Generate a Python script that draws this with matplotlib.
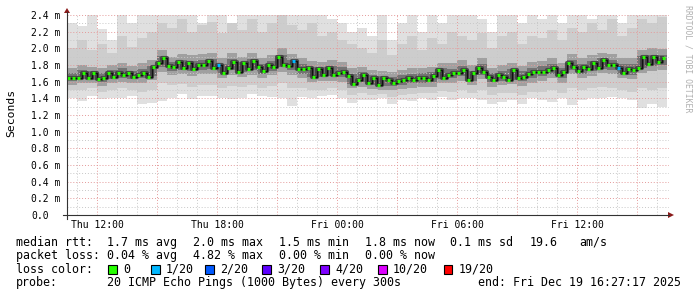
import matplotlib
matplotlib.use("Agg")
import matplotlib.pyplot as plt
import matplotlib.dates as mdates
import numpy as np
import pandas as pd
from matplotlib.patches import Rectangle, Polygon
from matplotlib.lines import Line2D
from matplotlib.transforms import blended_transform_factory

# ---------------- data ----------------
# median RTT in ms, one value every 15 minutes starting Thu 10:30
median = [1.64, 1.65, 1.64, 1.70, 1.65, 1.70, 1.63, 1.65, 1.70, 1.66,
          1.71, 1.68, 1.70, 1.66, 1.68, 1.71, 1.66, 1.78, 1.82, 1.88,
          1.79, 1.77, 1.84, 1.76, 1.82, 1.75, 1.80, 1.80, 1.85, 1.76,
          1.80, 1.71, 1.76, 1.84, 1.72, 1.82, 1.75, 1.85, 1.77, 1.73,
          1.80, 1.78, 1.90, 1.80, 1.79, 1.85, 1.75, 1.75, 1.76, 1.66,
          1.75, 1.68, 1.76, 1.68, 1.71, 1.72, 1.67, 1.57, 1.62, 1.68,
          1.58, 1.65, 1.56, 1.65, 1.62, 1.58, 1.61, 1.62, 1.64, 1.62,
          1.64, 1.64, 1.62, 1.67, 1.74, 1.65, 1.68, 1.71, 1.70, 1.74,
          1.62, 1.71, 1.76, 1.72, 1.66, 1.62, 1.68, 1.66, 1.62, 1.74,
          1.65, 1.66, 1.69, 1.72, 1.72, 1.72, 1.74, 1.76, 1.68, 1.72,
          1.82, 1.78, 1.73, 1.77, 1.75, 1.82, 1.76, 1.86, 1.80, 1.80,
          1.76, 1.71, 1.75, 1.74, 1.76, 1.90, 1.81, 1.90, 1.84, 1.88]
# samples with packet loss (index into median, lost pings out of 20)
loss_index = [30, 45, 110]
loss_count = [1, 1, 1]

# smoke envelopes (ms), one value per 30 minutes starting Thu 10:30
smoke_top = [2.30, 2.27, 2.40, 2.23, 2.10, 2.50, 2.30, 2.50, 2.50, 2.50,
             2.50, 2.50, 2.50, 2.30, 2.50, 2.50, 2.25, 2.50, 2.50, 2.50,
             2.50, 2.50, 2.50, 2.50, 2.50, 2.50, 2.35, 2.30, 2.20, 2.25,
             2.15, 2.50, 2.10, 2.30, 2.50, 2.20, 2.50, 2.30, 2.50, 2.50,
             2.50, 2.35, 2.20, 2.50, 2.50, 2.30, 2.50, 2.35, 2.50, 2.30,
             2.50, 2.50, 2.35, 2.50, 2.50, 2.30, 2.50, 2.50, 2.50, 2.50]
smoke_bot = [1.41, 1.37, 1.43, 1.39, 1.41, 1.40, 1.43, 1.33, 1.35, 1.37,
             1.41, 1.45, 1.39, 1.43, 1.43, 1.41, 1.39, 1.41, 1.45, 1.43,
             1.42, 1.40, 1.31, 1.42, 1.40, 1.43, 1.44, 1.40, 1.35, 1.38,
             1.38, 1.40, 1.33, 1.38, 1.37, 1.40, 1.38, 1.42, 1.38, 1.40,
             1.40, 1.38, 1.33, 1.36, 1.38, 1.33, 1.40, 1.38, 1.36, 1.40,
             1.32, 1.38, 1.40, 1.40, 1.42, 1.40, 1.38, 1.28, 1.33, 1.30]
mid_top = [2.00, 2.10, 1.98, 2.05, 1.95, 2.15, 2.02, 2.12, 2.20, 2.30,
           2.25, 2.35, 2.20, 2.28, 2.32, 2.18, 2.30, 2.22, 2.35, 2.20,
           2.30, 2.40, 2.28, 2.22, 2.30, 2.15, 2.20, 2.10, 2.05, 2.00,
           1.95, 2.10, 1.92, 2.05, 2.15, 1.98, 2.12, 2.05, 2.20, 2.15,
           2.10, 2.18, 2.00, 2.15, 2.20, 2.05, 2.15, 2.12, 2.22, 2.10,
           2.25, 2.20, 2.30, 2.22, 2.35, 2.15, 2.25, 2.35, 2.30, 2.38]
mid_bot = [1.50, 1.50, 1.52, 1.48, 1.50, 1.52, 1.50, 1.48, 1.50, 1.58,
           1.56, 1.57, 1.54, 1.56, 1.56, 1.53, 1.55, 1.54, 1.56, 1.52,
           1.55, 1.58, 1.52, 1.52, 1.50, 1.50, 1.52, 1.50, 1.44, 1.46,
           1.44, 1.45, 1.42, 1.44, 1.45, 1.46, 1.46, 1.49, 1.48, 1.50,
           1.47, 1.50, 1.44, 1.46, 1.47, 1.44, 1.48, 1.48, 1.50, 1.47,
           1.52, 1.50, 1.52, 1.54, 1.53, 1.50, 1.48, 1.52, 1.50, 1.52]
core_top = [1.76, 1.80, 1.78, 1.76, 1.80, 1.82, 1.79, 1.82, 1.86, 1.98,
            1.90, 1.93, 1.92, 1.93, 1.95, 1.88, 1.94, 1.90, 1.95, 1.88,
            1.92, 2.00, 1.93, 1.88, 1.85, 1.84, 1.86, 1.84, 1.76, 1.78,
            1.74, 1.73, 1.72, 1.74, 1.76, 1.76, 1.78, 1.83, 1.82, 1.86,
            1.80, 1.88, 1.77, 1.80, 1.82, 1.79, 1.84, 1.85, 1.88, 1.83,
            1.93, 1.88, 1.92, 1.95, 1.93, 1.88, 1.88, 1.98, 2.00, 1.99]
core_bot = [1.56, 1.58, 1.58, 1.55, 1.58, 1.60, 1.58, 1.59, 1.62, 1.72,
            1.68, 1.69, 1.67, 1.69, 1.69, 1.65, 1.68, 1.66, 1.68, 1.64,
            1.68, 1.72, 1.68, 1.64, 1.60, 1.61, 1.61, 1.60, 1.52, 1.54,
            1.51, 1.50, 1.50, 1.51, 1.53, 1.54, 1.54, 1.58, 1.59, 1.61,
            1.56, 1.63, 1.54, 1.56, 1.57, 1.55, 1.59, 1.61, 1.64, 1.59,
            1.69, 1.64, 1.67, 1.70, 1.69, 1.64, 1.63, 1.71, 1.73, 1.74]

y_ticks = [0.0, 0.2, 0.4, 0.6, 0.8, 1.0, 1.2, 1.4, 1.6, 1.8, 2.0, 2.2, 2.4]
y_labels = ["0.0", "0.2 m", "0.4 m", "0.6 m", "0.8 m", "1.0 m", "1.2 m",
            "1.4 m", "1.6 m", "1.8 m", "2.0 m", "2.2 m", "2.4 m"]
x_label_times = ["2025-12-18 12:00", "2025-12-18 18:00", "2025-12-19 00:00",
                 "2025-12-19 06:00", "2025-12-19 12:00"]
x_labels = ["Thu 12:00", "Thu 18:00", "Fri 00:00", "Fri 06:00", "Fri 12:00"]

loss_names = ["0", "1/20", "2/20", "3/20", "4/20", "10/20", "19/20"]
loss_levels = [0, 1, 2, 3, 4, 10, 19]
loss_colors = ["#26ff00", "#00b8ff", "#0059ff", "#5e00ff", "#7e00ff", "#dd00ff", "#ff0000"]

stats_rtt = ["1.7 ms avg", "2.0 ms max", "1.5 ms min", "1.8 ms now", "0.1 ms sd", "19.6", "am/s"]
stats_loss = ["0.04 % avg", "4.82 % max", "0.00 % min", "0.00 % now"]
probe_text = "20 ICMP Echo Pings (1000 Bytes) every 300s"
end_text = "end: Fri Dec 19 16:27:17 2025"

# ---------------- figure ----------------
W, H = 697, 297
MONO = "DejaVu Sans Mono"


def fx(x):
    return x / W


def fy(y):
    return 1 - y / H


fig = plt.figure(figsize=(W / 100, H / 100), dpi=100, facecolor="white")
ax = fig.add_axes([fx(67), fy(215), (669 - 67) / W, (215 - 15) / H])
ax.set_facecolor("white")
for s in ax.spines.values():
    s.set_visible(False)

start = pd.Timestamp("2025-12-18 10:30")
t_med = mdates.date2num(pd.date_range(start, periods=len(median), freq="15min").to_pydatetime())
t_edge = mdates.date2num(pd.date_range(start, periods=len(smoke_top) + 1, freq="30min").to_pydatetime())


def st(a):
    a = np.asarray(a, dtype=float)
    return np.append(a, a[-1])


ax.fill_between(t_edge, st(smoke_bot), st(smoke_top), step="post", color="#e0e0e0", lw=0, zorder=1)
ax.fill_between(t_edge, st(mid_bot), st(mid_top), step="post", color="#cdcdcd", lw=0, zorder=1.1)
ax.fill_between(t_edge, st(core_bot), st(core_top), step="post", color="#a0a0a0", lw=0, zorder=1.2)
cb, ct = np.asarray(core_bot), np.asarray(core_top)
ax.fill_between(t_edge, st(cb + 0.22 * (ct - cb)), st(cb + 0.72 * (ct - cb)), step="post",
                color="#747474", lw=0, zorder=1.3)

# grid (drawn over the smoke like rrdtool)
minor_h = [v / 10 for v in range(1, 24, 2)]
for v in minor_h:
    ax.axhline(v, color="#c8c8c8", lw=0.7, ls=(0, (1, 2)), zorder=2)
for v in y_ticks[1:]:
    ax.axhline(v, color="#e49a9a", lw=0.7, ls=(0, (1, 2)), zorder=2.1)
hours = pd.date_range("2025-12-18 11:00", "2025-12-19 16:00", freq="1h")
for h in hours:
    major = h.hour % 3 == 0
    ax.axvline(mdates.date2num(h.to_pydatetime()), color="#e49a9a" if major else "#c8c8c8",
               lw=0.7, ls=(0, (1, 2)), zorder=2.1 if major else 2)

# darkest smoke right around the median, then the loss coloured median dashes
ax.step(t_med, median, where="post", color="#3c3c3c", lw=3.0, alpha=0.85, zorder=2.6)
ax.step(t_med, median, where="post", color="#111111", lw=0.9, zorder=3)
pt_colors = [loss_colors[0]] * len(median)
for i, c in zip(loss_index, loss_count):
    pt_colors[i] = loss_colors[loss_levels.index(c)]
ax.hlines(median, t_med, t_med + 10 / 1440, colors=pt_colors, lw=2.3, zorder=4)

ax.set_xlim(mdates.date2num(start.to_pydatetime()),
            mdates.date2num((start + pd.Timedelta(hours=30.1)).to_pydatetime()))
ax.set_ylim(0, 2.4)
ax.set_xticks([])
ax.set_yticks(y_ticks)
ax.set_yticklabels(y_labels, family=MONO, fontsize=7, ha="left")
ax.tick_params(axis="y", length=0, pad=36 * 0.72)

bt = blended_transform_factory(ax.transData, fig.transFigure)
for t, lab in zip(x_label_times, x_labels):
    ax.text(mdates.date2num(pd.Timestamp(t).to_pydatetime()), fy(228.3), lab, transform=bt,
            ha="center", va="baseline", family=MONO, fontsize=7, color="black")

# axes lines and arrows
axc = "#333333"
arrc = "#8b1a1a"
fig.add_artist(Line2D([fx(63), fx(669)], [fy(215), fy(215)], color=axc, lw=0.8))
fig.add_artist(Line2D([fx(67), fx(67)], [fy(219), fy(12)], color=axc, lw=0.8))
fig.add_artist(Polygon([(fx(668), fy(212)), (fx(668), fy(218)), (fx(674), fy(215))],
                       closed=True, color=arrc, lw=0))
fig.add_artist(Polygon([(fx(64), fy(13)), (fx(70), fy(13)), (fx(67), fy(8))],
                       closed=True, color=arrc, lw=0))

fig.text(fx(11), fy(113), "Seconds", rotation=90, ha="center", va="center",
         family=MONO, fontsize=8.2)
fig.text(fx(688), fy(5), "RRDTOOL / TOBI OETIKER", rotation=270, ha="center", va="top",
         family=MONO, fontsize=5.9, color="#b0b0b0")

# legend lines
LS = 8.4
rtt_x = [107, 193, 279, 365, 450, 530, 579]
fig.text(fx(16), fy(245.7), "median rtt:", family=MONO, fontsize=LS, va="baseline")
for xx, s in zip(rtt_x, stats_rtt):
    fig.text(fx(xx), fy(245.7), s, family=MONO, fontsize=LS, va="baseline")
fig.text(fx(16), fy(258.9), "packet loss:", family=MONO, fontsize=LS, va="baseline")
for xx, s in zip(rtt_x, stats_loss):
    fig.text(fx(xx), fy(258.9), s, family=MONO, fontsize=LS, va="baseline")
fig.text(fx(16), fy(272.8), "loss color:", family=MONO, fontsize=LS, va="baseline")
box_x = [108, 151, 205, 262, 320, 378, 444]
for bx, name, col in zip(box_x, loss_names, loss_colors):
    fig.add_artist(Rectangle((fx(bx), fy(273.5)), 8.5 / W, 8.5 / H, facecolor=col,
                             edgecolor="black", lw=0.8))
    fig.text(fx(bx + 15), fy(272.8), name, family=MONO, fontsize=LS, va="baseline")
fig.text(fx(16), fy(286.3), "probe:", family=MONO, fontsize=LS, va="baseline")
fig.text(fx(107), fy(286.3), probe_text, family=MONO, fontsize=LS, va="baseline")
fig.text(fx(478), fy(286.3), end_text, family=MONO, fontsize=LS, va="baseline")

fig.savefig("out.png", dpi=100, facecolor="white")
